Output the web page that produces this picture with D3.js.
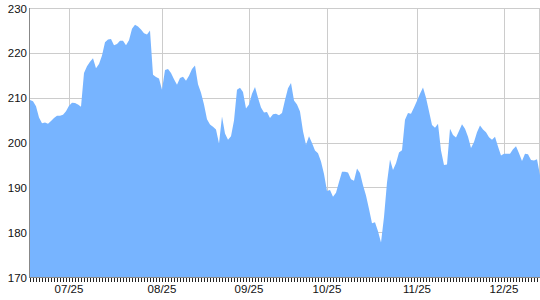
<!DOCTYPE html>
<html>
<head>
<meta charset="utf-8">
<script src="https://cdn.jsdelivr.net/npm/d3@7"></script>
<style>
  html, body { margin: 0; padding: 0; background: #fff; }
  svg { display: block; }
</style>
</head>
<body>
<svg id="chart" width="540" height="300"></svg>
<script>
// ---- data ----
const values = [
  209.6, 209.3, 208.2, 205.7, 204.4, 204.6, 204.3, 204.9, 205.6, 206.1,
  206.1, 206.3, 207.1, 208.3, 209.0, 208.9, 208.6, 208.1, 215.6, 217.1,
  218.1, 218.9, 216.7, 217.6, 219.5, 222.5, 223.1, 223.2, 221.8, 222.1,
  222.8, 222.8, 221.8, 222.9, 225.5, 226.4, 226.0, 225.3, 224.5, 224.2,
  225.1, 215.2, 214.7, 214.4, 211.9, 216.3, 216.5, 215.6, 214.2, 213.0,
  214.5, 214.8, 213.9, 215.0, 216.5, 217.3, 213.1, 211.2, 208.6, 205.3,
  204.1, 203.6, 203.0, 199.9, 205.9, 202.1, 200.7, 201.5, 205.0, 211.9,
  212.3, 211.4, 207.7, 208.6, 211.0, 212.5, 210.1, 207.9, 206.8, 206.9,
  205.6, 206.4, 206.5, 206.2, 206.7, 209.6, 212.2, 213.4, 209.5, 208.6,
  207.0, 202.6, 199.6, 201.5, 200.0, 198.3, 197.7, 195.9, 193.1, 189.3,
  189.5, 188.0, 188.9, 191.3, 193.6, 193.6, 193.4, 191.9, 191.6, 194.3,
  193.3, 190.6, 188.3, 185.3, 182.1, 182.3, 180.3, 177.8, 183.5, 191.2,
  196.3, 194.0, 195.5, 197.9, 198.4, 205.2, 206.7, 206.5, 207.9, 209.4,
  211.0, 212.4, 210.1, 207.1, 204.0, 203.4, 204.3, 198.3, 195.1, 195.2,
  203.2, 201.8, 201.2, 202.7, 204.2, 203.2, 201.4, 198.9, 200.2, 202.4,
  203.9, 203.0, 202.4, 201.3, 200.7, 201.4, 199.2, 197.2, 197.6, 197.6,
  197.6, 198.6, 199.3, 197.7, 196.0, 197.6, 197.5, 196.2, 196.1, 196.4,
  192.8
];
const tickIndex  = [13, 44, 73, 99, 129, 158];
const tickLabels = ["07/25", "08/25", "09/25", "10/25", "11/25", "12/25"];
const yTicks     = [170, 180, 190, 200, 210, 220, 230];

// ---- layout ----
const mLeft = 30, mRight = 540, mTop = 8.5, mBottom = 277.5;
const svg = d3.select("#chart");
const x = d3.scaleLinear().domain([0, values.length - 1]).range([mLeft, mRight]);
const y = d3.scaleLinear().domain([170, 230]).range([mBottom, mTop]);
const font = "'Liberation Sans', Arial, sans-serif";

// grid
const grid = svg.append("g").attr("stroke", "#cccccc").attr("stroke-width", 1).attr("shape-rendering", "crispEdges");
grid.selectAll("line.h").data(yTicks.slice(1)).enter().append("line")
  .attr("x1", mLeft).attr("x2", mRight).attr("y1", d => y(d)).attr("y2", d => y(d));
grid.selectAll("line.v").data(tickIndex).enter().append("line")
  .attr("x1", d => Math.round(x(d)) + 0.5).attr("x2", d => Math.round(x(d)) + 0.5)
  .attr("y1", mTop).attr("y2", mBottom);
grid.append("line").attr("x1", mRight - 0.5).attr("x2", mRight - 0.5).attr("y1", mTop).attr("y2", mBottom);

// area
const area = d3.area()
  .x((d, i) => x(i))
  .y0(y(170))
  .y1(d => y(d));
svg.append("path").datum(values).attr("d", area).attr("fill", "#77b4ff");

// bottom axis: minor ticks for every data point
const xAxis = svg.append("g").attr("transform", `translate(0,${mBottom})`);
xAxis.selectAll("line.t").data(d3.range(values.length)).enter().append("line")
  .attr("x1", d => Math.round(x(d)) + 0.5).attr("x2", d => Math.round(x(d)) + 0.5)
  .attr("y1", 0).attr("y2", 4).attr("stroke", "#222").attr("shape-rendering", "crispEdges");
xAxis.append("line").attr("x1", mLeft - 1).attr("x2", mRight).attr("y1", 0).attr("y2", 0)
  .attr("stroke", "#888").attr("shape-rendering", "crispEdges");
xAxis.selectAll("text").data(tickIndex).enter().append("text")
  .attr("x", d => x(d)).attr("y", 15)
  .attr("text-anchor", "middle").attr("font-family", font).attr("font-size", "11.5px").attr("fill", "#111")
  .text((d, i) => tickLabels[i]);

// left axis
const yAxis = svg.append("g");
yAxis.append("line").attr("x1", mLeft - 0.5).attr("x2", mLeft - 0.5).attr("y1", mTop - 0.5).attr("y2", mBottom)
  .attr("stroke", "#888").attr("shape-rendering", "crispEdges");
yAxis.selectAll("text").data(yTicks).enter().append("text")
  .attr("x", mLeft - 3).attr("y", d => y(d)).attr("dy", "0.36em")
  .attr("text-anchor", "end").attr("font-family", font).attr("font-size", "11.5px").attr("fill", "#111")
  .text(d => d);
</script>
</body>
</html>
